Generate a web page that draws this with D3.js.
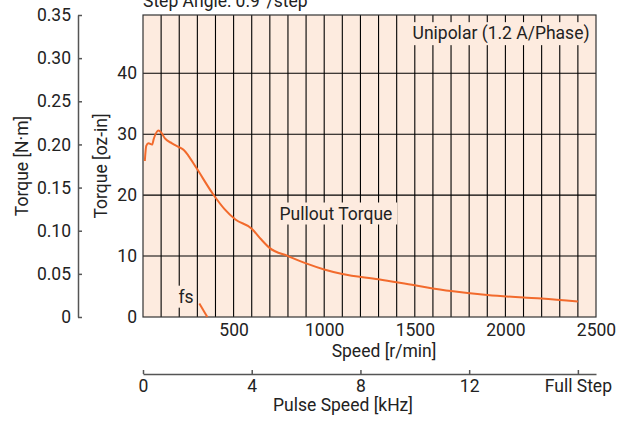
<!DOCTYPE html>
<html>
<head>
<meta charset="utf-8">
<script src="https://cdn.jsdelivr.net/npm/d3@7"></script>
<style>
  body { margin: 0; background: #fff; }
  svg text { font-family: Roboto, "Liberation Sans", sans-serif; fill: #222; }
</style>
</head>
<body>
<div id="chart"></div>
<script>
// pullout torque curve
var speed  = [10, 18, 30, 50, 60, 85, 100, 121, 160, 204, 225, 250, 296, 388, 450, 510, 600, 650, 700, 800, 900, 1000, 1100, 1300, 1500, 1700, 1900, 2100, 2200, 2400];
var torque = [25.6, 28.1, 28.5, 28.3, 29.3, 30.6, 30.3, 29.3, 28.5, 27.8, 27.4, 26.5, 24.4, 20.1, 17.7, 16.0, 14.5, 12.8, 11.3, 10.0, 8.8, 7.8, 7.05, 6.2, 5.2, 4.25, 3.6, 3.2, 3.05, 2.55];

// start frequency marker (fs)
var fsSpeed  = [311, 355];
var fsTorque = [2.2, 0];

var speedTicks = [500, 1000, 1500, 2000, 2500];
var ozTicks    = [0, 10, 20, 30, 40];
var nmTicks    = [0, 0.05, 0.10, 0.15, 0.20, 0.25, 0.30, 0.35];
var khzTicks   = [0, 4, 8, 12, 16];
var khzLabels  = ["0", "4", "8", "12", "Full Step"];

var width = 628, height = 421;
var size = {left: 143, right: 596, top: 15, bottom: 317};
var OZ_PER_NM = 141.612;
var fontSize = "17.5px";

var svg = d3.select("#chart").append("svg")
  .attr("width", width)
  .attr("height", height);

var xScale = d3.scaleLinear().domain([0, 2500]).range([size.left, size.right]);
var yScale = d3.scaleLinear().domain([0, 0.35 * OZ_PER_NM]).range([size.bottom, size.top]);
var nmScale = d3.scaleLinear().domain([0, 0.35]).range([size.bottom, size.top]);
var khzScale = d3.scaleLinear().domain([0, 2500 / 150]).range([size.left, size.right]);

// title, cut at the top edge like the source
svg.append("text")
  .attr("x", size.left)
  .attr("y", 7)
  .style("font-size", fontSize)
  .text("Step Angle: 0.9°/step");

// plot background
svg.append("rect")
  .attr("x", size.left)
  .attr("y", size.top)
  .attr("width", size.right - size.left)
  .attr("height", size.bottom - size.top)
  .attr("fill", "#fdebdf");

// grid
var grid = svg.append("g").attr("class", "grid");
grid.selectAll("line.v")
  .data(d3.range(100, 2500, 100))
  .enter().append("line")
  .attr("class", "v")
  .attr("x1", d => xScale(d)).attr("x2", d => xScale(d))
  .attr("y1", size.top).attr("y2", size.bottom)
  .attr("stroke", "#000").attr("stroke-width", 1.1);

grid.selectAll("line.h")
  .data([10, 20, 30, 40])
  .enter().append("line")
  .attr("class", "h")
  .attr("x1", size.left).attr("x2", size.right)
  .attr("y1", d => yScale(d)).attr("y2", d => yScale(d))
  .attr("stroke", "#000").attr("stroke-width", 1.1);

// labels sitting on a peach box over the grid
function boxLabel(text, s, t, pad){
  var g = svg.append("g");
  var txt = g.append("text")
    .attr("x", xScale(s))
    .attr("y", yScale(t))
    .attr("text-anchor", "middle")
    .style("font-size", fontSize)
    .text(text);
  var bb = txt.node().getBBox();
  g.insert("rect", "text")
    .attr("x", bb.x - pad)
    .attr("y", bb.y - 1)
    .attr("width", bb.width + pad * 2)
    .attr("height", bb.height + 2)
    .attr("fill", "#fdebdf");
}

boxLabel("Unipolar (1.2 A/Phase)", 1976, 45.6, 4);
boxLabel("Pullout Torque", 1065, 16.0, 5);
boxLabel("fs", 237, 2.35, 1);

// border
svg.append("rect")
  .attr("x", size.left)
  .attr("y", size.top)
  .attr("width", size.right - size.left)
  .attr("height", size.bottom - size.top)
  .attr("fill", "none")
  .attr("stroke", "#333")
  .attr("stroke-width", 1.2);

// curves
var line = d3.line()
  .x(d => xScale(d[0]))
  .y(d => yScale(d[1]))
  .curve(d3.curveMonotoneX);

svg.append("path")
  .datum(d3.zip(speed, torque))
  .attr("d", line)
  .attr("fill", "none")
  .attr("stroke", "#f26a2c")
  .attr("stroke-width", 2);

svg.append("path")
  .datum(d3.zip(fsSpeed, fsTorque))
  .attr("d", d3.line().x(d => xScale(d[0])).y(d => yScale(d[1])))
  .attr("fill", "none")
  .attr("stroke", "#f26a2c")
  .attr("stroke-width", 2);

// axes
var ozAxis = d3.axisLeft(yScale).tickValues(ozTicks).tickSize(0).tickPadding(6);
svg.append("g")
  .attr("class", "y axis")
  .attr("transform", "translate(" + size.left + ",0)")
  .call(ozAxis)
  .call(g => g.select(".domain").remove());

var speedAxis = d3.axisBottom(xScale).tickValues(speedTicks).tickSize(0).tickPadding(7)
  .tickFormat(d3.format("d"));
svg.append("g")
  .attr("class", "x axis")
  .attr("transform", "translate(0," + size.bottom + ")")
  .call(speedAxis)
  .call(g => g.select(".domain").remove());

var nmAxis = d3.axisLeft(nmScale).tickValues(nmTicks).tickSize(-4).tickSizeOuter(0).tickPadding(7)
  .tickFormat(d => d === 0 ? "0" : d3.format(".2f")(d));
svg.append("g")
  .attr("class", "nm axis")
  .attr("transform", "translate(78,0)")
  .call(nmAxis);

var khzAxis = d3.axisBottom(khzScale).tickValues(khzTicks).tickSize(-4).tickSizeOuter(0).tickPadding(6)
  .tickFormat((d, i) => khzLabels[i]);
svg.append("g")
  .attr("class", "khz axis")
  .attr("transform", "translate(0,374)")
  .call(khzAxis);

svg.selectAll(".axis text").style("font-size", fontSize).attr("fill", "#222");
svg.selectAll(".axis .domain, .axis .tick line").attr("stroke", "#555").attr("stroke-width", 1.5);

// axis titles
svg.append("text")
  .attr("transform", "translate(28,166) rotate(-90)")
  .attr("text-anchor", "middle")
  .style("font-size", fontSize)
  .text("Torque [N·m]");

svg.append("text")
  .attr("transform", "translate(107,166) rotate(-90)")
  .attr("text-anchor", "middle")
  .style("font-size", fontSize)
  .text("Torque [oz-in]");

svg.append("text")
  .attr("x", 384)
  .attr("y", 357)
  .attr("text-anchor", "middle")
  .style("font-size", fontSize)
  .text("Speed [r/min]");

svg.append("text")
  .attr("x", 343)
  .attr("y", 411)
  .attr("text-anchor", "middle")
  .style("font-size", fontSize)
  .text("Pulse Speed [kHz]");
</script>
</body>
</html>
